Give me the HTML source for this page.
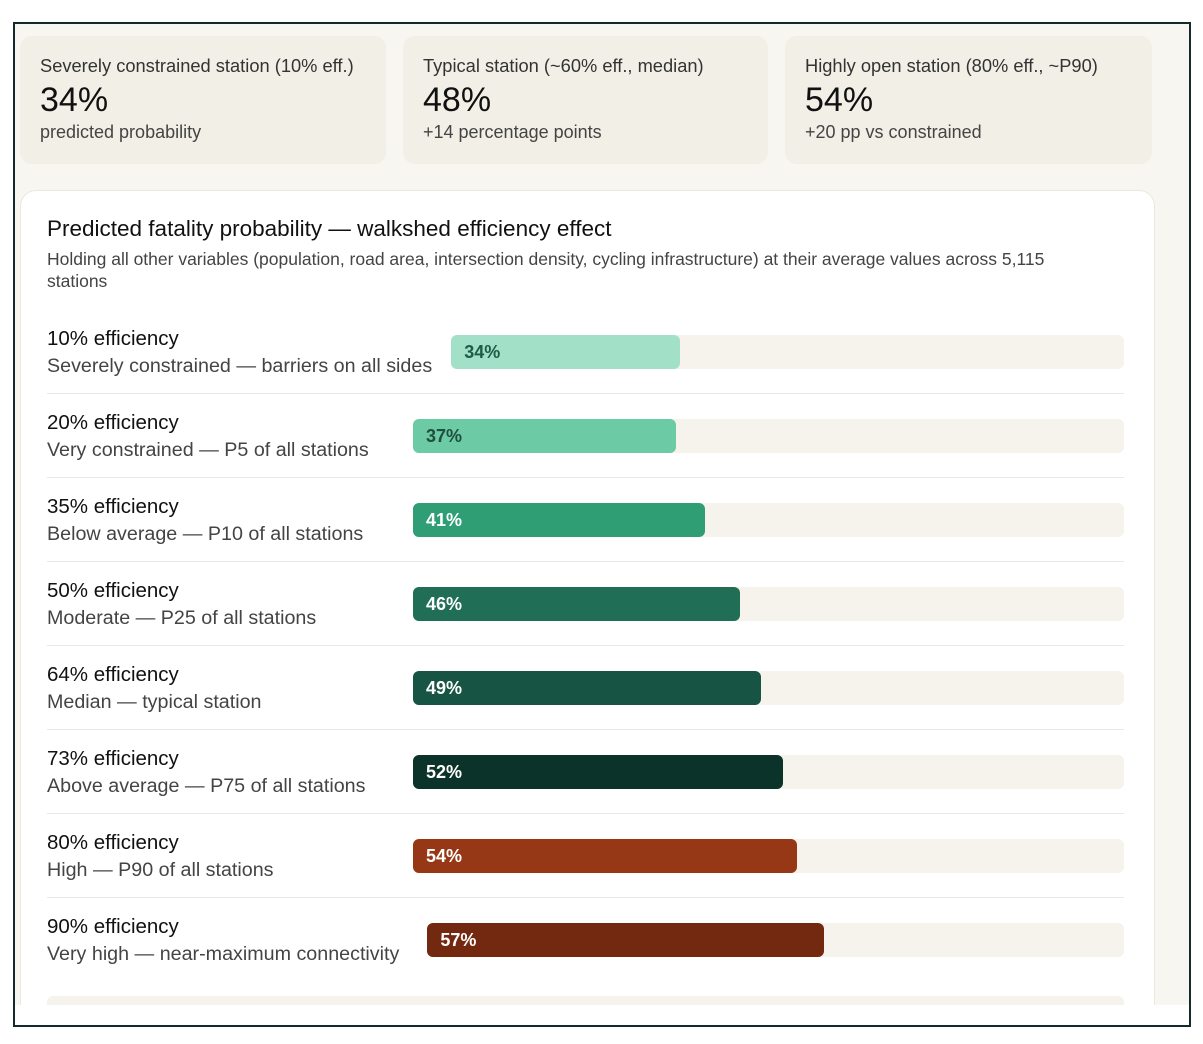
<!DOCTYPE html>
<html><head><meta charset="utf-8"><style>
*{box-sizing:border-box;margin:0;padding:0}
body{width:1203px;height:1044px;background:#fff;font-family:"Liberation Sans","DejaVu Sans",sans-serif;position:relative;overflow:hidden;color:#1c1c1c}
#frame{position:absolute;left:13px;top:22px;width:1178px;height:1005px;border:2px solid #15282c;background:#f8f6f0;overflow:hidden}
.card{position:absolute;top:12px;height:128px;background:#f1efe6;border-radius:12px;padding:19px 20px}
.card .k{font-size:18.3px;color:#333}
.card .v{font-size:34px;margin-top:4px;color:#111}
.card .s{font-size:18px;color:#444;margin-top:2px}
#panel{position:absolute;left:5px;top:166px;width:1135px;height:830px;background:#fff;border:1px solid #ebe8df;border-radius:16px}
#title{position:absolute;left:26px;top:25px;font-size:22.5px;color:#111}
#sub{position:absolute;left:26px;top:57px;width:1040px;font-size:17.5px;line-height:22px;color:#444}
.lbl{position:absolute;left:26px;font-size:20.5px;color:#111}
.sl{position:absolute;left:26px;font-size:19.7px;color:#444}
.sep{position:absolute;left:26px;width:1077px;height:1px;background:#ebe8e1}
.track{position:absolute;height:34px;background:#f5f3ec;border-radius:6px}
.bar{position:absolute;height:34px;border-radius:6px;color:#fff;font-size:18px;font-weight:bold;padding:7px 0 0 13px}
#bottom{position:absolute;left:0;top:981px;width:1178px;height:30px;background:#fff}
</style></head><body>
<div id="frame">
 <div class="card" style="left:5px;width:366px"><div class="k">Severely constrained station (10% eff.)</div><div class="v">34%</div><div class="s">predicted probability</div></div>
 <div class="card" style="left:388px;width:365px"><div class="k">Typical station (~60% eff., median)</div><div class="v">48%</div><div class="s">+14 percentage points</div></div>
 <div class="card" style="left:770px;width:367px"><div class="k">Highly open station (80% eff., ~P90)</div><div class="v">54%</div><div class="s">+20 pp vs constrained</div></div>
 <div id="panel">
  <div id="title">Predicted fatality probability — walkshed efficiency effect</div>
  <div id="sub">Holding all other variables (population, road area, intersection density, cycling infrastructure) at their average values across 5,115 stations</div>
  <div id="rows"></div>
  <div class="track" style="left:26px;top:805px;width:1077px;height:20px"></div>
 </div>
 <div id="bottom"></div>
</div>
<script>
const labels=["10% efficiency","20% efficiency","35% efficiency","50% efficiency","64% efficiency","73% efficiency","80% efficiency","90% efficiency"];
const sublabels=["Severely constrained — barriers on all sides","Very constrained — P5 of all stations","Below average — P10 of all stations","Moderate — P25 of all stations","Median — typical station","Above average — P75 of all stations","High — P90 of all stations","Very high — near-maximum connectivity"];
const values=[34,37,41,46,49,52,54,57];
const colors=["#a3e0c8","#6ccaa4","#2f9e75","#1f6e55","#175443","#0c3329","#963815","#73290f"];
const textColors=["#1f5c46","#1f4f3f","#fff","#fff","#fff","#fff","#fff","#fff"];
const rows=document.getElementById('rows');
const trackRight=1103;
function xScale(v,start){return (trackRight-start)*v/100;}
labels.forEach((l,i)=>{
 const top=136+i*84;
 const a=document.createElement('div');a.className='lbl';a.style.top=top+'px';a.textContent=l;
 
 
 rows.appendChild(a);
 const s=document.createElement('div');s.className='sl';s.style.top=(top+28)+'px';s.textContent=sublabels[i];
 
 
 rows.appendChild(s);
 const w=Math.max(s.getBoundingClientRect().width,a.getBoundingClientRect().width);
 const start=Math.max(392,26+w+19+(i===7?9:0));
 const t=document.createElement('div');t.className='track';t.style.left=start+'px';t.style.top=(top+8)+'px';t.style.width=(trackRight-start)+'px';
 
 
 rows.appendChild(t);
 const b=document.createElement('div');b.className='bar';b.style.left=start+'px';b.style.top=(top+8)+'px';b.style.width=xScale(values[i],start)+'px';b.style.background=colors[i];b.style.color=textColors[i];b.textContent=values[i]+'%';
 
 
 rows.appendChild(b);
 if(i<labels.length-1){const sp=document.createElement('div');sp.className='sep';sp.style.top=(top+66)+'px';
 
 
 rows.appendChild(sp);}
});
</script>
</body></html>
